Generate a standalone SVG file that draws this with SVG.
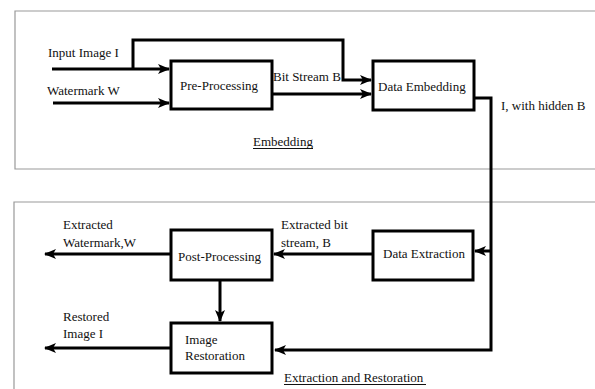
<svg xmlns="http://www.w3.org/2000/svg" width="595" height="389" viewBox="0 0 595 389">
<style>
text{font-family:"Liberation Serif","Times New Roman",serif;font-size:13px;fill:#111}
.box{fill:#fff;stroke:#000;stroke-width:3}
.ln{fill:none;stroke:#000;stroke-width:3}
.panel{fill:none;stroke:#999;stroke-width:1.2}
.ul{stroke:#111;stroke-width:1}
</style>
<defs>
<marker id="ah" markerUnits="userSpaceOnUse" markerWidth="12" markerHeight="12" viewBox="0 0 12 12" refX="11" refY="6" orient="auto">
<path d="M0,1 L12,6 L0,11 L3,6 Z" fill="#000"/>
</marker>
</defs>
<rect width="595" height="389" fill="#fff"/>
<g id="panels">
<path class="panel" d="M595,11 H15 V169 H595"/>
<path class="panel" d="M595,202 H14 V389"/>
</g>
<g id="connectors">
<path class="ln" d="M52,69 H169" marker-end="url(#ah)"/>
<path class="ln" d="M133,69 V40 H343 V80 H371" marker-end="url(#ah)"/>
<path class="ln" d="M53,103 H169" marker-end="url(#ah)"/>
<path class="ln" d="M272,94 H371" marker-end="url(#ah)"/>
<path class="ln" d="M474,98 H491 V350 H275" marker-end="url(#ah)"/>
<path class="ln" d="M491,251 H475" marker-end="url(#ah)"/>
<path class="ln" d="M373,254 H274" marker-end="url(#ah)"/>
<path class="ln" d="M171,254 H45" marker-end="url(#ah)"/>
<path class="ln" d="M220,280 V321" marker-end="url(#ah)"/>
<path class="ln" d="M171,348 H45" marker-end="url(#ah)"/>
</g>
<g id="pre-processing">
<rect class="box" x="171" y="61" width="101" height="48"/>
<text x="180" y="90">Pre-Processing</text>
</g>
<g id="data-embedding">
<rect class="box" x="373" y="61" width="101" height="49"/>
<text x="378" y="91">Data Embedding</text>
</g>
<g id="post-processing">
<rect class="box" x="171" y="230" width="101" height="50"/>
<text x="178" y="261">Post-Processing</text>
</g>
<g id="image-restoration">
<rect class="box" x="171" y="323" width="101" height="50"/>
<text x="185" y="344">Image</text>
<text x="185" y="360">Restoration</text>
</g>
<g id="data-extraction">
<rect class="box" x="373" y="231" width="100" height="49"/>
<text x="383" y="258">Data Extraction</text>
</g>
<g id="labels">
<text x="48" y="57">Input Image I</text>
<text x="47" y="95">Watermark W</text>
<text x="273" y="81">Bit Stream B</text>
<text x="501" y="110">I, with hidden B</text>
<text x="253" y="146">Embedding</text>
<line class="ul" x1="253" y1="148.5" x2="313" y2="148.5"/>
<text x="63" y="229">Extracted</text>
<text x="63" y="247">Watermark,W</text>
<text x="281" y="229">Extracted bit</text>
<text x="281" y="247">stream, B</text>
<text x="63" y="321">Restored</text>
<text x="63" y="338">Image I</text>
<text x="284" y="382">Extraction and Restoration</text>
<line class="ul" x1="284" y1="384.5" x2="426" y2="384.5"/>
</g>
</svg>
